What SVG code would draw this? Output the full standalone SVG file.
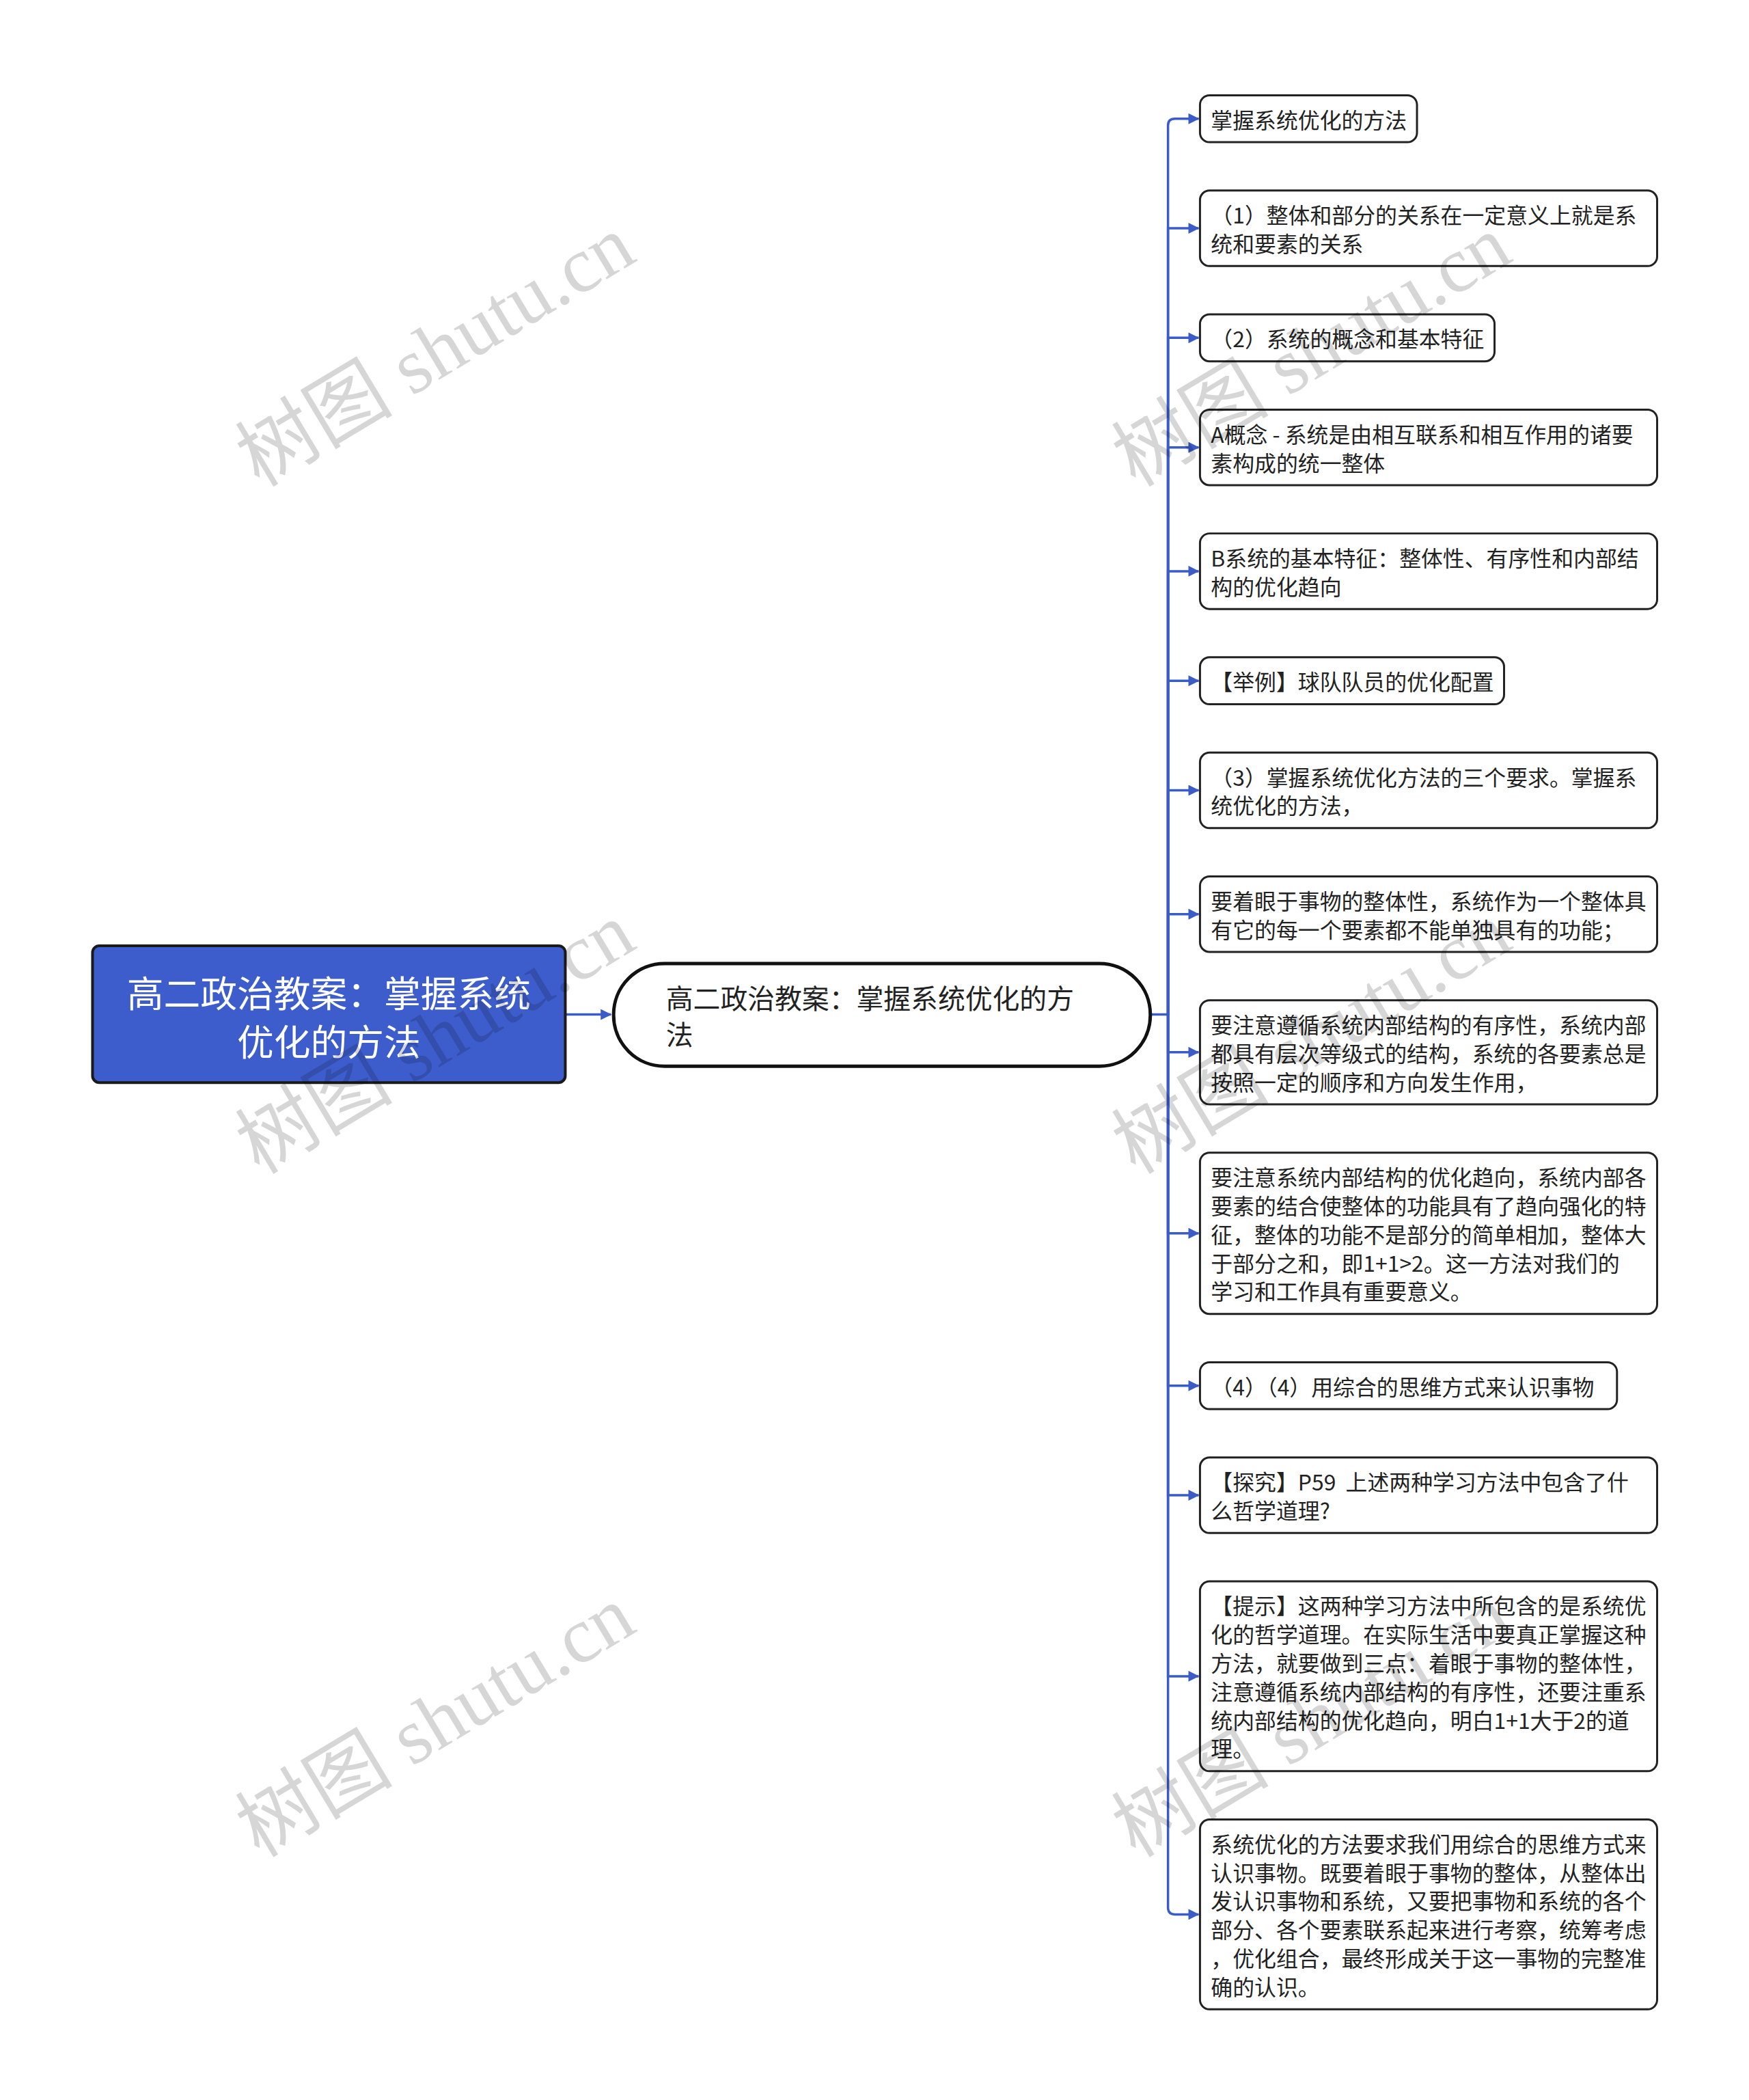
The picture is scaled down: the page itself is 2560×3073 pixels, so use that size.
<svg xmlns="http://www.w3.org/2000/svg" width="2560" height="3073" viewBox="0 0 2560 3073">
<style>
.t{font-family:"Noto Sans CJK SC","Noto Sans",sans-serif;font-size:32px;fill:#222;dominant-baseline:central;white-space:pre}
.box{fill:#fff;stroke:#222;stroke-width:3}
.conn{fill:none;stroke:#3B5BC9;stroke-width:3.5}
.wm{font-family:"Liberation Serif","Noto Sans CJK SC",serif;font-size:116px;fill:#000;fill-opacity:0.16;text-anchor:middle;dominant-baseline:central}
</style>
<defs>
<marker id="arr" markerUnits="userSpaceOnUse" markerWidth="16" markerHeight="16" refX="15" refY="8" orient="auto">
<path d="M0,0 L16,8 L0,16 z" fill="#3B5BC9"/>
</marker>
</defs>
<rect width="2560" height="3073" fill="#fff"/>
<g transform="scale(0.9957)">
<g id="connectors">
<path class="conn" d="M831,1491 H898" marker-end="url(#arr)"/>
<path class="conn" d="M1691,1491 H1717 V184.5 Q1717,174.5 1727,174.5 H1762" marker-end="url(#arr)"/>
<path class="conn" d="M1717,1491 V335.5 H1762" marker-end="url(#arr)"/>
<path class="conn" d="M1717,1491 V496.5 H1762" marker-end="url(#arr)"/>
<path class="conn" d="M1717,1491 V657.5 H1762" marker-end="url(#arr)"/>
<path class="conn" d="M1717,1491 V839.5 H1762" marker-end="url(#arr)"/>
<path class="conn" d="M1717,1491 V1000.5 H1762" marker-end="url(#arr)"/>
<path class="conn" d="M1717,1491 V1161.5 H1762" marker-end="url(#arr)"/>
<path class="conn" d="M1717,1491 V1343.5 H1762" marker-end="url(#arr)"/>
<path class="conn" d="M1717,1491 V1546.5 H1762" marker-end="url(#arr)"/>
<path class="conn" d="M1717,1491 V1812.5 H1762" marker-end="url(#arr)"/>
<path class="conn" d="M1717,1491 V2036.5 H1762" marker-end="url(#arr)"/>
<path class="conn" d="M1717,1491 V2197.5 H1762" marker-end="url(#arr)"/>
<path class="conn" d="M1717,1491 V2463.5 H1762" marker-end="url(#arr)"/>
<path class="conn" d="M1717,1491 V2803.5 Q1717,2813.5 1727,2813.5 H1762" marker-end="url(#arr)"/>
</g>
<g id="root">
<rect x="136" y="1390" width="695" height="201" rx="10" fill="#3D5DCC" stroke="#1a1a1a" stroke-width="4"/>
<text x="483.5" y="1457" text-anchor="middle" style="font-family:'Noto Sans CJK SC','Noto Sans',sans-serif;font-size:54px;fill:#fff;dominant-baseline:central">高二政治教案：掌握系统</text>
<text x="483.5" y="1528" text-anchor="middle" style="font-family:'Noto Sans CJK SC','Noto Sans',sans-serif;font-size:54px;fill:#fff;dominant-baseline:central">优化的方法</text>
</g>
<g id="main">
<rect x="902" y="1416" width="789" height="151" rx="75" fill="#fff" stroke="#111" stroke-width="5"/>
<text x="979" y="1465" style="font-family:'Noto Sans CJK SC','Noto Sans',sans-serif;font-size:40px;fill:#222;dominant-baseline:central">高二政治教案：掌握系统优化的方</text>
<text x="979" y="1518" style="font-family:'Noto Sans CJK SC','Noto Sans',sans-serif;font-size:40px;fill:#222;dominant-baseline:central">法</text>
</g>
<g id="n1"><rect class="box" x="1764" y="140" width="319" height="69" rx="14"/>
<text class="t" x="1780" y="174.5">掌握系统优化的方法</text></g>
<g id="n2"><rect class="box" x="1764" y="280" width="672" height="111" rx="14"/>
<text class="t" x="1780" y="314.5">（1）整体和部分的关系在一定意义上就是系</text>
<text class="t" x="1780" y="356.5">统和要素的关系</text></g>
<g id="n3"><rect class="box" x="1764" y="462" width="433" height="69" rx="14"/>
<text class="t" x="1780" y="496.5">（2）系统的概念和基本特征</text></g>
<g id="n4"><rect class="box" x="1764" y="602" width="672" height="111" rx="14"/>
<text class="t" x="1780" y="636.5">A概念 - 系统是由相互联系和相互作用的诸要</text>
<text class="t" x="1780" y="678.5">素构成的统一整体</text></g>
<g id="n5"><rect class="box" x="1764" y="784" width="672" height="111" rx="14"/>
<text class="t" x="1780" y="818.5">B系统的基本特征：整体性、有序性和内部结</text>
<text class="t" x="1780" y="860.5">构的优化趋向</text></g>
<g id="n6"><rect class="box" x="1764" y="966" width="447" height="69" rx="14"/>
<text class="t" x="1780" y="1000.5">【举例】球队队员的优化配置</text></g>
<g id="n7"><rect class="box" x="1764" y="1106" width="672" height="111" rx="14"/>
<text class="t" x="1780" y="1140.5">（3）掌握系统优化方法的三个要求。掌握系</text>
<text class="t" x="1780" y="1182.5">统优化的方法，</text></g>
<g id="n8"><rect class="box" x="1764" y="1288" width="672" height="111" rx="14"/>
<text class="t" x="1780" y="1322.5">要着眼于事物的整体性，系统作为一个整体具</text>
<text class="t" x="1780" y="1364.5">有它的每一个要素都不能单独具有的功能；</text></g>
<g id="n9"><rect class="box" x="1764" y="1470" width="672" height="153" rx="14"/>
<text class="t" x="1780" y="1504.5">要注意遵循系统内部结构的有序性，系统内部</text>
<text class="t" x="1780" y="1546.5">都具有层次等级式的结构，系统的各要素总是</text>
<text class="t" x="1780" y="1588.5">按照一定的顺序和方向发生作用，</text></g>
<g id="n10"><rect class="box" x="1764" y="1694" width="672" height="237" rx="14"/>
<text class="t" x="1780" y="1728.5">要注意系统内部结构的优化趋向，系统内部各</text>
<text class="t" x="1780" y="1770.5">要素的结合使整体的功能具有了趋向强化的特</text>
<text class="t" x="1780" y="1812.5">征，整体的功能不是部分的简单相加，整体大</text>
<text class="t" x="1780" y="1854.5">于部分之和，即1+1&gt;2。这一方法对我们的</text>
<text class="t" x="1780" y="1896.5">学习和工作具有重要意义。</text></g>
<g id="n11"><rect class="box" x="1764" y="2002" width="613" height="69" rx="14"/>
<text class="t" x="1780" y="2036.5">（4）（4）用综合的思维方式来认识事物</text></g>
<g id="n12"><rect class="box" x="1764" y="2142" width="672" height="111" rx="14"/>
<text class="t" x="1780" y="2176.5">【探究】P59  上述两种学习方法中包含了什</text>
<text class="t" x="1780" y="2218.5">么哲学道理?</text></g>
<g id="n13"><rect class="box" x="1764" y="2324" width="672" height="279" rx="14"/>
<text class="t" x="1780" y="2358.5">【提示】这两种学习方法中所包含的是系统优</text>
<text class="t" x="1780" y="2400.5">化的哲学道理。在实际生活中要真正掌握这种</text>
<text class="t" x="1780" y="2442.5">方法，就要做到三点：着眼于事物的整体性，</text>
<text class="t" x="1780" y="2484.5">注意遵循系统内部结构的有序性，还要注重系</text>
<text class="t" x="1780" y="2526.5">统内部结构的优化趋向，明白1+1大于2的道</text>
<text class="t" x="1780" y="2568.5">理。</text></g>
<g id="n14"><rect class="box" x="1764" y="2674" width="672" height="279" rx="14"/>
<text class="t" x="1780" y="2708.5">系统优化的方法要求我们用综合的思维方式来</text>
<text class="t" x="1780" y="2750.5">认识事物。既要着眼于事物的整体，从整体出</text>
<text class="t" x="1780" y="2792.5">发认识事物和系统，又要把事物和系统的各个</text>
<text class="t" x="1780" y="2834.5">部分、各个要素联系起来进行考察，统筹考虑</text>
<text class="t" x="1780" y="2876.5">，优化组合，最终形成关于这一事物的完整准</text>
<text class="t" x="1780" y="2918.5">确的认识。</text></g>
<g id="watermarks">
<text class="wm" transform="translate(640,516) rotate(-31)">树图 shutu.cn</text>
<text class="wm" transform="translate(640,1526) rotate(-31)">树图 shutu.cn</text>
<text class="wm" transform="translate(640,2530) rotate(-31)">树图 shutu.cn</text>
<text class="wm" transform="translate(1928,516) rotate(-31)">树图 shutu.cn</text>
<text class="wm" transform="translate(1928,1526) rotate(-31)">树图 shutu.cn</text>
<text class="wm" transform="translate(1928,2530) rotate(-31)">树图 shutu.cn</text>
</g>
</g>
</svg>
